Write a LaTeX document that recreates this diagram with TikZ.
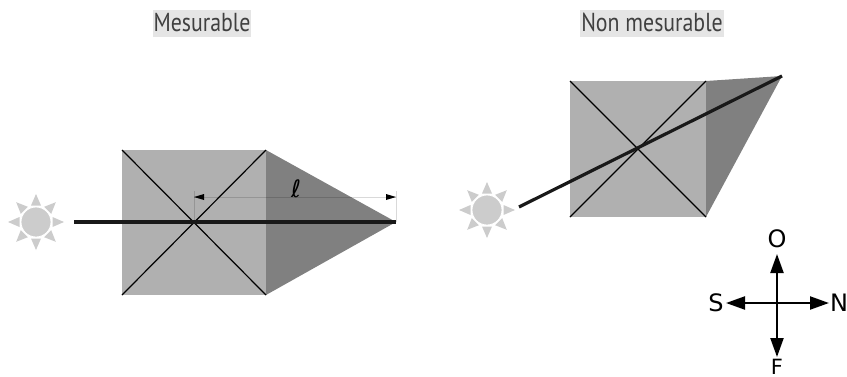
\documentclass[tikz,border=0pt]{standalone}
\usepackage{fontspec}
\usetikzlibrary{arrows.meta}
\newfontfamily\titlefont[FakeStretch=0.84]{PT Sans}
\setmainfont{DejaVu Sans}
\tikzset{
    titlelabel/.style={fill=black!10, inner xsep=1pt, inner ysep=1.5pt, text height=19.5pt, text depth=4.5pt, text=black!75, font=\titlefont\fontsize{26}{26}\selectfont},
    windlabel/.style={inner sep=0pt, font=\fontsize{24}{24}\selectfont},
    windarrow/.style={-{Triangle[length=19pt,width=13pt]}, line width=2.2pt},
    boxface/.style={fill=black!31},
    shadowface/.style={fill=black!50},
    boxedge/.style={line width=1.2pt},
    rayline/.style={line width=3.2pt, draw=black!90},
    dimline/.style={line width=0.8pt, draw=black, opacity=0.15},
    sunray/.style={fill=black!20},
    sun/.pic={
        \foreach \a in {0,45,...,315} {
            \fill[sunray, rotate=\a] (16.5,-5) -- (28,0) -- (16.5,5) -- cycle;
        }
        \fill[black!20, draw=white, line width=0.8pt] (0,0) circle (15);
    }
}
\begin{document}
\begin{tikzpicture}[x=1pt,y=-1pt]
    \useasboundingbox (0,0) rectangle (847,376);
    % Titles
    \node[titlelabel] (mes) at (202,23.5) {Mesurable};
    \node[titlelabel] (nonmes) at (652,23.5) {Non mesurable};

    % Left box coords
    \coordinate (a1) at (122,150);
    \coordinate (a2) at (266,150);
    \coordinate (a3) at (266,295);
    \coordinate (a4) at (122,295);
    \coordinate (ac) at (194,222);
    \coordinate (atip) at (396,222);
    \coordinate (astart) at (74,222);

    % Left shadow and box
    \fill[shadowface] (a2) -- (atip) -- (a3) -- cycle;
    \fill[boxface] (a1) -- (a2) -- (a3) -- (a4) -- cycle;
    \draw[boxedge] (a1) -- (a3);
    \draw[boxedge] (a2) -- (a4);

    % Length mark
    \coordinate (d1) at (194,191);
    \coordinate (d2) at (396,191);
    \coordinate (l1) at (194,197);
    \coordinate (l2) at (396,197);
    \draw[dimline] (d1) -- (ac);
    \draw[dimline] (d2) -- (atip);
    \draw[dimline] (l1) -- (l2);
    \fill (l1) -- ++(10,-3) -- ++(0,6) -- cycle;
    \fill (l2) -- ++(-10,-3) -- ++(0,6) -- cycle;
    \node[windlabel] (len) at (296,189) {ℓ};

    % Left ray and sun
    \draw[rayline] (astart) -- (atip);
    \pic at (36,222) {sun};

    % Right box coords
    \coordinate (b1) at (570,81);
    \coordinate (b2) at (706,81);
    \coordinate (b3) at (706,217);
    \coordinate (b4) at (570,217);
    \coordinate (btip) at (782,76);
    \coordinate (bstart) at (519,207);

    % Right shadow and box
    \fill[shadowface] (b2) -- (btip) -- (b3) -- cycle;
    \fill[boxface] (b1) -- (b2) -- (b3) -- (b4) -- cycle;
    \draw[boxedge] (b1) -- (b3);
    \draw[boxedge] (b2) -- (b4);

    % Right ray and sun
    \draw[rayline] (bstart) -- (btip);
    \pic at (487,210) {sun};

    % Wind rose
    \coordinate (w) at (777,303);
    \node[windlabel] (o) at (777,239) {O};
    \node[windlabel] (s) at (716,303) {S};
    \node[windlabel] (n) at (839,303) {N};
    \node[windlabel, anchor=base, font=\fontsize{21}{21}\selectfont] (f) at (777,374.5) {F};
    \coordinate (wo) at (777,254);
    \coordinate (ws) at (726,303);
    \coordinate (wn) at (829,303);
    \coordinate (wf) at (777,357);
    \draw[windarrow] (w) -- (wo);
    \draw[windarrow] (w) -- (ws);
    \draw[windarrow] (w) -- (wn);
    \draw[windarrow] (w) -- (wf);
\end{tikzpicture}
\end{document}
